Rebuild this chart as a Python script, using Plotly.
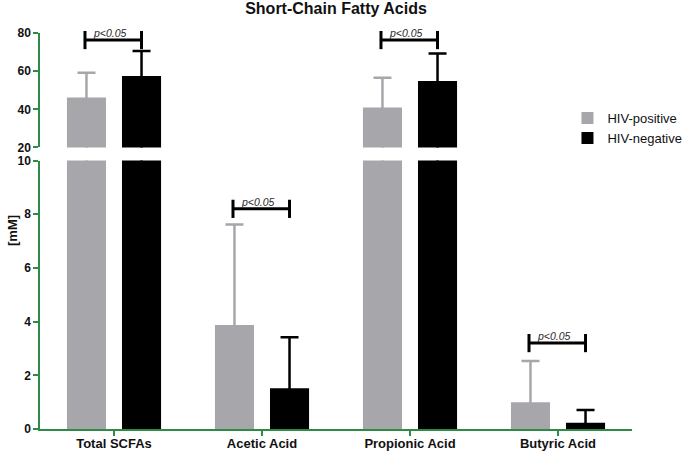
import plotly.graph_objects as go

categories = ["Total SCFAs", "Acetic Acid", "Propionic Acid", "Butyric Acid"]
pos_mean = [46.2, 3.87, 40.9, 1.00]
pos_err = [12.9, 3.75, 15.6, 1.53]
neg_mean = [57.4, 1.52, 54.9, 0.23]
neg_err = [13.1, 1.90, 14.4, 0.48]
sig_level = [76.3, 8.2, 76.3, 3.2]
sig_panel = ["top", "bottom", "top", "bottom"]
sig_label = "<i>p&lt;0.05</i>"
low_ticks = [0, 2, 4, 6, 8, 10]
high_ticks = [20, 40, 60, 80]

GRAY = "#a7a6ab"
BLACK = "#000000"
GREEN = "#2e8b45"
FONT = "Arial, Liberation Sans, sans-serif"

xpos = list(range(len(categories)))
bar_w = 0.264
off_pos = -0.318
off_neg = 0.054
cen_pos = off_pos + bar_w / 2
cen_neg = off_neg + bar_w / 2

fig = go.Figure()

for yax, show in (("y", True), ("y2", False)):
    fig.add_trace(go.Bar(
        x=xpos, y=pos_mean, name="HIV-positive", yaxis=yax, xaxis="x",
        width=bar_w, offset=off_pos, marker=dict(color=GRAY, line=dict(width=0)),
        error_y=dict(type="data", array=pos_err, arrayminus=pos_mean, symmetric=False,
                     color=GRAY, thickness=2.5, width=9),
        showlegend=show, legendgroup="pos"))
    fig.add_trace(go.Bar(
        x=xpos, y=neg_mean, name="HIV-negative", yaxis=yax, xaxis="x",
        width=bar_w, offset=off_neg, marker=dict(color=BLACK, line=dict(width=0)),
        error_y=dict(type="data", array=neg_err, arrayminus=neg_mean, symmetric=False,
                     color=BLACK, thickness=2.5, width=9),
        showlegend=show, legendgroup="neg"))

annotations = []
for i, (lvl, panel) in enumerate(zip(sig_level, sig_panel)):
    yax = "y2" if panel == "top" else "y"
    fig.add_trace(go.Scatter(
        x=[xpos[i] + cen_pos - 0.01, xpos[i] + cen_neg], y=[lvl, lvl],
        mode="lines+markers", yaxis=yax, xaxis="x",
        line=dict(color=BLACK, width=3),
        marker=dict(symbol="line-ns", size=13, line=dict(color=BLACK, width=3)),
        showlegend=False, hoverinfo="skip", cliponaxis=False))
    annotations.append(dict(
        x=xpos[i] - 0.03, y=lvl, xref="x", yref=yax, text=sig_label,
        showarrow=False, yanchor="bottom", xanchor="center", yshift=-1,
        font=dict(family=FONT, size=10.5, color="#2a2a2a")))

annotations.append(dict(
    x=-28 / 592, y=0.5, xref="paper", yref="paper", text="<b>[mM]</b>", textangle=-90,
    xanchor="center", yanchor="middle",
    showarrow=False, font=dict(family=FONT, size=13, color="#111111")))

axis_common = dict(showgrid=False, zeroline=False, showline=True, linecolor=GREEN,
                   linewidth=1.5, ticks="outside", ticklen=5, tickwidth=1.5,
                   tickcolor=GREEN)
ytickfont = dict(family=FONT, size=12, color="#111111", weight="bold")
xtickfont = dict(family=FONT, size=13, color="#111111", weight="bold")

fig.update_layout(
    width=685, height=451,
    margin=dict(l=40, r=53, t=33, b=22, autoexpand=False),
    paper_bgcolor="white", plot_bgcolor="white",
    barmode="overlay",
    title=dict(text="<b>Short-Chain Fatty Acids</b>", x=0.5, xref="paper",
               y=1 - 8 / 451, yref="container", yanchor="middle", xanchor="center",
               pad=dict(t=0, b=0, l=0, r=0),
               font=dict(family=FONT, size=16, color="#111111")),
    xaxis=dict(range=[-0.5, 3.5], tickvals=xpos, ticktext=categories, anchor="y",
               tickfont=xtickfont, ticklabelstandoff=-3, **axis_common),
    yaxis=dict(domain=[0, 0.678], range=[0, 10], tickvals=low_ticks, anchor="x",
               tickfont=ytickfont, **axis_common),
    yaxis2=dict(domain=[0.711, 1], range=[20, 80], tickvals=high_ticks, anchor="x",
                tickfont=ytickfont, **axis_common),
    legend=dict(x=0.891, y=0.823, xanchor="left", yanchor="top",
                font=dict(family=FONT, size=13, color="#111111"),
                bgcolor="rgba(0,0,0,0)", traceorder="normal", tracegroupgap=0),
    annotations=annotations,
    showlegend=True,
)

fig.write_html("out.html",
               config={"displayModeBar": False},
               post_script="document.body.style.margin='0px';"
                           "document.body.style.overflow='hidden';")
